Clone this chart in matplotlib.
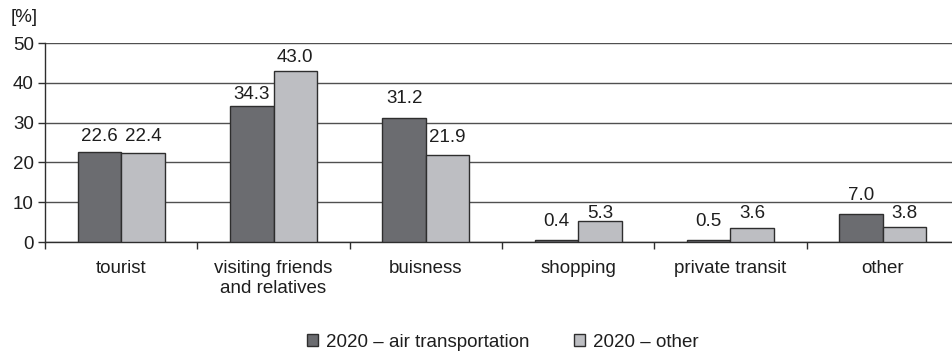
import matplotlib
matplotlib.use("Agg")
import matplotlib.pyplot as plt
import numpy as np
from matplotlib.patches import Patch

plt.rcParams['font.family'] = ['Liberation Sans', 'DejaVu Sans']

categories = ["tourist", "visiting friends\nand relatives", "buisness",
              "shopping", "private transit", "other"]
air_transport = [22.6, 34.3, 31.2, 0.4, 0.5, 7.0]
other_transport = [22.4, 43.0, 21.9, 5.3, 3.6, 3.8]
series_names = ["2020 \u2013 air transportation", "2020 \u2013 other"]
y_ticks = [0, 10, 20, 30, 40, 50]

# vertical gap (points) between each bar top and its value label
gap_air = [5, 1.8, 8, 7.5, 7, 7.5]
gap_other = [6, 3.5, 6.5, -0.5, 4, 3.5]

dark = "#6b6c70"
light = "#bdbec2"
edge = "#2e2e2e"
grid_col = "#505050"
txt = "#1e1e1e"
fs = 13.5

fig = plt.figure(figsize=(9.52, 3.53), dpi=100)
ax = fig.add_axes([0.0473, 0.3144, 0.96, 0.5637])

x = np.arange(len(categories))
w = 0.285
b1 = ax.bar(x - w / 2, air_transport, w, color=dark, edgecolor=edge, linewidth=1.0, zorder=3)
b2 = ax.bar(x + w / 2, other_transport, w, color=light, edgecolor=edge, linewidth=1.0, zorder=3)

for rect, v, g in zip(b1, air_transport, gap_air):
    ax.annotate(f"{v:.1f}", (rect.get_x() + rect.get_width() / 2, v),
                xytext=(0, g), textcoords="offset points",
                ha="center", va="bottom", fontsize=fs, color=txt)
for rect, v, g in zip(b2, other_transport, gap_other):
    ax.annotate(f"{v:.1f}", (rect.get_x() + rect.get_width() / 2, v),
                xytext=(0, g), textcoords="offset points",
                ha="center", va="bottom", fontsize=fs, color=txt)

ax.set_xlim(-0.5, len(categories) - 0.5)
ax.set_ylim(0, 50)
ax.set_yticks(y_ticks)
ax.yaxis.grid(True, color=grid_col, linewidth=1.0, zorder=0)
ax.set_axisbelow(True)
ax.tick_params(axis="y", labelsize=fs, length=5, width=1, color=edge, pad=3,
               labelcolor=txt)

# category boundary ticks (major) and centred labels (minor)
ax.set_xticks(np.arange(len(categories) + 1) - 0.5)
ax.set_xticklabels([])
ax.set_xticks(x, minor=True)
ax.set_xticklabels(categories, minor=True)
ax.tick_params(axis="x", which="major", length=5, width=1, color=edge)
ax.tick_params(axis="x", which="minor", length=0, pad=13, labelsize=fs,
               labelcolor=txt)

for s in ["top", "right"]:
    ax.spines[s].set_visible(False)
for s in ["left", "bottom"]:
    ax.spines[s].set_color(edge)
    ax.spines[s].set_linewidth(1.0)

fig.text(11 / 952, 1 - 18 / 353, "[%]", fontsize=fs, color=txt,
         ha="left", va="center")

handles = [Patch(facecolor=dark, edgecolor=edge, linewidth=1.0),
           Patch(facecolor=light, edgecolor=edge, linewidth=1.0)]
fig.legend(handles, series_names, loc="center", bbox_to_anchor=(0.528, 0.031),
           ncol=2, frameon=False, fontsize=fs, handlelength=0.6, handleheight=0.6,
           handletextpad=0.4, columnspacing=2.4, labelcolor=txt)

fig.savefig("out.png", dpi=100)
